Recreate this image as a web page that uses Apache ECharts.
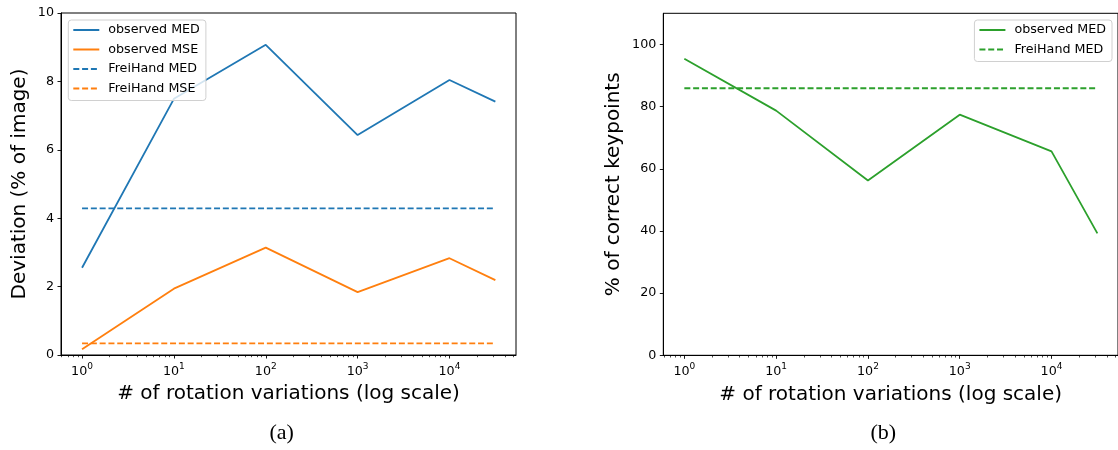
<!DOCTYPE html>
<html><head><meta charset="utf-8">
<script src="https://cdn.jsdelivr.net/npm/echarts@6/dist/echarts.min.js"></script>
<style>html,body{margin:0;padding:0;background:#fff}#c{width:1118px;height:450px}</style>
</head><body><div id="c"></div>
<script>
// ---- data ----
const rotations = [1, 10, 100, 1000, 10000, 31600];
const observedMED = [2.55, 7.49, 9.07, 6.43, 8.04, 7.41];
const observedMSE = [0.17, 1.94, 3.14, 1.84, 2.83, 2.19];
const freihandX = [1, 31600];
const freihandMED = [4.29, 4.29];
const freihandMSE = [0.34, 0.34];
const pckObserved = [95.4, 78.7, 56.2, 77.4, 65.6, 39.2];
const pckFreihand = [85.9, 85.9];
const xMajorTicks = [1, 10, 100, 1000, 10000];
const yTicksA = [0, 2, 4, 6, 8, 10];
const yTicksB = [0, 20, 40, 60, 80, 100];
const legendA = ['observed MED', 'observed MSE', 'FreiHand MED', 'FreiHand MSE'];
const legendB = ['observed MED', 'FreiHand MED'];
const xTitle = '# of rotation variations (log scale)';
const yTitleA = 'Deviation (% of image)';
const yTitleB = '% of correct keypoints';
const captions = ['(a)', '(b)'];

// minor tick positions (2..9 x 10^k) within axis range
const xMin = 0.59, xMax = 53000;
const xMinorTicks = [];
for (let k = -1; k <= 4; k++) for (let m = 2; m <= 9; m++) {
  const v = m * Math.pow(10, k);
  if (v >= xMin && v <= xMax) xMinorTicks.push(v);
}

const FONT = 'DejaVu Sans';
const BLUE = '#1f77b4', ORANGE = '#ff7f0e', GREEN = '#2ca02c';
const LW = 1.8, DASH = [6, 2.8];
const pair = (xs, ys) => xs.map((x, i) => [x, ys[i]]);

function xAxisMain(gi) {
  return {
    type: 'log', logBase: 10, gridIndex: gi, min: xMin, max: xMax, position: 'bottom',
    name: xTitle, nameLocation: 'middle', nameGap: 29,
    nameTextStyle: { fontFamily: FONT, fontSize: 20, color: '#000' },
    axisLine: { show: true, lineStyle: { color: '#000', width: 1 } },
    axisTick: { show: true, length: 3.5, lineStyle: { color: '#000', width: 0.9 }, customValues: xMajorTicks },
    axisLabel: {
      customValues: xMajorTicks, margin: 7,
      formatter: v => '{b|10}{s|' + Math.round(Math.log10(v)) + '}',
      rich: {
        b: { fontFamily: FONT, fontSize: 12.7, color: '#000', lineHeight: 16, verticalAlign: 'bottom' },
        s: { fontFamily: FONT, fontSize: 9, color: '#000', lineHeight: 10, verticalAlign: 'top' }
      }
    },
    splitLine: { show: false }, minorTick: { show: false }
  };
}
function xAxisMinor(gi) {
  return {
    type: 'log', logBase: 10, gridIndex: gi, min: xMin, max: xMax, position: 'bottom',
    axisLine: { show: false }, axisLabel: { show: false }, splitLine: { show: false },
    axisTick: { show: true, length: 2.2, lineStyle: { color: '#000', width: 0.7 }, customValues: xMinorTicks }
  };
}
function yAxis(gi, max, interval, ticks, title, gap) {
  return {
    type: 'value', gridIndex: gi, min: 0, max: max, interval: interval,
    name: title, nameLocation: 'middle', nameGap: gap,
    nameTextStyle: { fontFamily: FONT, fontSize: 20, color: '#000' },
    axisLine: { show: true, lineStyle: { color: '#000', width: 1 } },
    axisTick: { show: true, length: 3.5, lineStyle: { color: '#000', width: 0.9 }, customValues: ticks },
    axisLabel: { customValues: ticks, margin: 7, fontFamily: FONT, fontSize: 12.7, color: '#000' },
    splitLine: { show: false }
  };
}
function line(name, xi, yi, data, color, dashed) {
  return {
    name: name, type: 'line', xAxisIndex: xi, yAxisIndex: yi, data: data,
    symbol: 'none', showSymbol: false, color: color, animation: false, z: 3,
    lineStyle: { color: color, width: LW, type: dashed ? DASH : 'solid' }
  };
}
const legendCommon = {
  orient: 'vertical', itemWidth: 26, itemHeight: 12, itemGap: 5.5,
  padding: [3, 6, 5, 4], backgroundColor: 'rgba(255,255,255,0.8)',
  borderColor: '#d0d0d0', borderWidth: 1, borderRadius: 3,
  itemStyle: { opacity: 0 },
  textStyle: { fontFamily: FONT, fontSize: 12.7, color: '#000', lineHeight: 14, padding: [0, 0, 0, 4] },
  formatter: n => n.replace(' (b)', ''),
  selectedMode: false
};

const chart = echarts.init(document.getElementById('c'), null, { renderer: 'canvas' });
chart.setOption({
  backgroundColor: '#fff',
  animation: false,
  grid: [
    { left: 61, top: 13, width: 455, height: 342, show: true, borderColor: '#000', borderWidth: 1, backgroundColor: 'transparent' },
    { left: 663.3, top: 13.3, width: 456, height: 342, show: true, borderColor: '#000', borderWidth: 1, backgroundColor: 'transparent' }
  ],
  xAxis: [xAxisMain(0), xAxisMain(1), xAxisMinor(0), xAxisMinor(1)],
  yAxis: [
    yAxis(0, 10, 2, yTicksA, yTitleA, 31),
    yAxis(1, 110, 20, yTicksB, yTitleB, 40)
  ],
  legend: [
    Object.assign({}, legendCommon, { left: 68.3, top: 20, data: legendA }),
    Object.assign({}, legendCommon, { right: 6, top: 20, data: legendB.map(n => n + ' (b)') })
  ],
  series: [
    line(legendA[0], 0, 0, pair(rotations, observedMED), BLUE, false),
    line(legendA[1], 0, 0, pair(rotations, observedMSE), ORANGE, false),
    line(legendA[2], 0, 0, pair(freihandX, freihandMED), BLUE, true),
    line(legendA[3], 0, 0, pair(freihandX, freihandMSE), ORANGE, true),
    line(legendB[0] + ' (b)', 1, 1, pair(rotations, pckObserved), GREEN, false),
    line(legendB[1] + ' (b)', 1, 1, pair(freihandX, pckFreihand), GREEN, true)
  ],
  graphic: [
    { type: 'text', x: 281.7, y: 433, style: { text: captions[0], font: '22px "Liberation Serif"', fill: '#000', align: 'center', verticalAlign: 'middle' } },
    { type: 'text', x: 883.3, y: 433, style: { text: captions[1], font: '22px "Liberation Serif"', fill: '#000', align: 'center', verticalAlign: 'middle' } }
  ]
});
</script>
</body></html>
